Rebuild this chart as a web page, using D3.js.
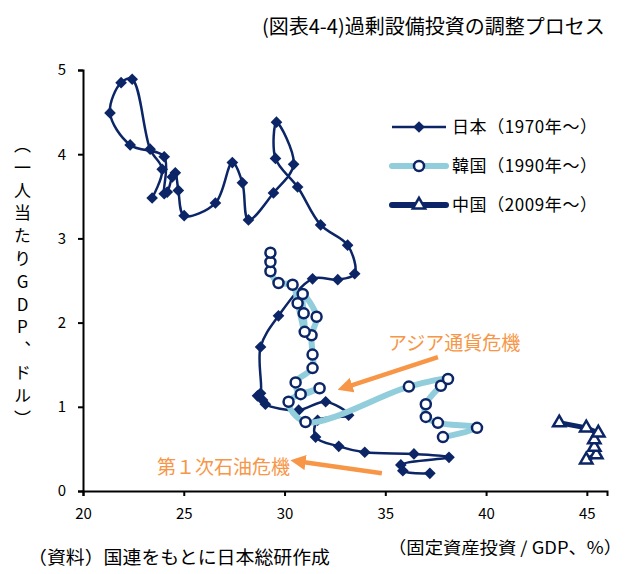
<!DOCTYPE html>
<html>
<head>
<meta charset="utf-8">
<script src="https://cdn.jsdelivr.net/npm/d3@7"></script>
<style>
  body { margin: 0; background: #fff; }
  #wrap { position: relative; width: 636px; height: 574px; }
  #ytitle {
    position: absolute; left: 10px; top: 136px;
    writing-mode: vertical-rl; text-orientation: upright;
    font-family: "Noto Sans CJK JP", sans-serif; font-size: 17px;
    letter-spacing: 5.8px; color: #000;
  }
</style>
</head>
<body>
<div id="wrap">
  <svg id="chart"></svg>
  <div id="ytitle">（一人当たりGDP、ドル）</div>
</div>
<script>
// 日本 1970-2015
const japanInvest = [37.21, 35.87, 35.77, 38.16, 36.42, 33.98, 32.69, 31.54, 31.64, 33.18,
  32.04, 30.70, 29.05, 28.91, 28.66, 28.81, 28.81, 29.70, 31.39, 32.64,
  33.48, 33.13, 31.79, 30.65, 29.55, 29.60, 30.45, 29.45, 28.21, 27.91,
  27.41, 26.57, 25.02, 24.73, 24.58, 24.43, 24.18, 24.03, 24.03, 22.34,
  21.34, 21.89, 22.44, 23.33, 23.93, 23.43];
const japanGdp = [0.21, 0.24, 0.31, 0.40, 0.44, 0.46, 0.53, 0.64, 0.84, 0.90,
  1.06, 0.96, 1.03, 1.08, 1.13, 1.16, 1.71, 2.08, 2.52, 2.51,
  2.58, 2.92, 3.16, 3.61, 3.95, 4.38, 3.88, 3.54, 3.22, 3.66,
  3.90, 3.42, 3.27, 3.57, 3.78, 3.73, 3.55, 3.53, 3.97, 4.11,
  4.49, 4.85, 4.89, 4.06, 3.82, 3.48];

// 韓国 1990-2015
const koreaInvest = [37.86, 39.55, 37.61, 37.01, 37.01, 37.76, 38.11, 36.17, 31.04, 30.20,
  31.74, 30.80, 30.55, 31.39, 31.39, 31.34, 31.59, 30.90, 30.95, 31.00,
  30.65, 30.40, 29.70, 29.30, 29.30, 29.30];
const koreaGdp = [0.64, 0.75, 0.81, 0.88, 1.03, 1.25, 1.33, 1.24, 0.82, 1.06,
  1.22, 1.15, 1.29, 1.46, 1.62, 1.85, 2.07, 2.34, 2.11, 1.89,
  2.23, 2.45, 2.47, 2.61, 2.72, 2.83];

// 中国 2009-2015
const chinaInvest = [44.97, 45.47, 45.37, 45.37, 45.57, 44.97, 43.63];
const chinaGdp = [0.37, 0.43, 0.52, 0.61, 0.69, 0.75, 0.81];

const xTicks = [20, 25, 30, 35, 40, 45];
const yTicks = [0, 1, 2, 3, 4, 5];
const seriesNames = ["日本（1970年～）", "韓国（1990年～）", "中国（2009年～）"];

// annotations in data units: [label, textX, textY, tailX, tailY, tipX, tipY]
const notes = [
  ["アジア通貨危機", 38.41, 1.76, 37.61, 1.59, 32.74, 1.21],
  ["第１次石油危機", 26.97, 0.28, 34.83, 0.21, 30.40, 0.36]
];

const W = 636, H = 574;
const navy = "#0c2566", light = "#92cddc", orange = "#f79646";
const font = '"Noto Sans CJK JP", sans-serif';

const svg = d3.select("#chart").attr("width", W).attr("height", H)
  .style("font-family", font);

const x = d3.scaleLinear().domain([20, 46]).range([83, 607]);
const y = d3.scaleLinear().domain([0, 5]).range([491, 70]);

const zip = (a, b) => a.map((v, i) => [v, b[i]]);
const japan = zip(japanInvest, japanGdp);
const korea = zip(koreaInvest, koreaGdp);
const china = zip(chinaInvest, chinaGdp);

// title
svg.append("text").attr("x", 262).attr("y", 34)
  .attr("font-size", 20).attr("fill", "#000")
  .text("(図表4-4)過剰設備投資の調整プロセス");

// axes
const xAxis = svg.append("g").attr("transform", `translate(0,${y(0)})`)
  .call(d3.axisBottom(x).tickValues(xTicks).tickSize(5).tickPadding(12).tickFormat(d3.format("d")));
const yAxis = svg.append("g").attr("transform", `translate(${x(20)},0)`)
  .call(d3.axisLeft(y).tickValues(yTicks).tickSize(5).tickPadding(12).tickFormat(d3.format("d")));
[xAxis, yAxis].forEach(g => {
  g.select(".domain").attr("stroke", "#000").attr("stroke-width", 2);
  g.selectAll(".tick line").attr("stroke", "#000").attr("stroke-width", 2);
  g.selectAll(".tick text").attr("font-size", 15).attr("font-family", font).attr("fill", "#000");
});

const line = d3.line().x(d => x(d[0])).y(d => y(d[1])).curve(d3.curveCatmullRom.alpha(0.5));
const diamond = d3.symbol().type(d3.symbolSquare).size(68);
const triangle = d3.symbol().type(d3.symbolTriangle).size(66);

// 日本
svg.append("path").datum(japan).attr("d", line)
  .attr("fill", "none").attr("stroke", navy).attr("stroke-width", 2.5);
svg.append("g").selectAll("path").data(japan).join("path")
  .attr("d", diamond)
  .attr("transform", d => `translate(${x(d[0])},${y(d[1])}) rotate(45)`)
  .attr("fill", navy);

// 韓国
svg.append("path").datum(korea).attr("d", line)
  .attr("fill", "none").attr("stroke", light).attr("stroke-width", 6);
svg.append("g").selectAll("circle").data(korea).join("circle")
  .attr("cx", d => x(d[0])).attr("cy", d => y(d[1])).attr("r", 5)
  .attr("fill", "#fff").attr("stroke", navy).attr("stroke-width", 2.5);

// 中国
svg.append("path").datum(china).attr("d", d3.line().x(d => x(d[0])).y(d => y(d[1])))
  .attr("fill", "none").attr("stroke", navy).attr("stroke-width", 5);
svg.append("g").selectAll("path").data(china).join("path")
  .attr("d", triangle)
  .attr("transform", d => `translate(${x(d[0])},${y(d[1])})`)
  .attr("fill", "#fff").attr("stroke", navy).attr("stroke-width", 2.5);

// legend
const legend = svg.append("g").attr("transform", "translate(392,127)");
seriesNames.forEach((name, i) => {
  const g = legend.append("g").attr("transform", `translate(0,${i * 39})`);
  const sw = i === 0 ? 2.5 : 6;
  g.append("line").attr("x1", 0).attr("x2", 54).attr("y1", 0).attr("y2", 0)
    .attr("stroke", i === 1 ? light : navy).attr("stroke-width", sw)
    .attr("stroke-linecap", i === 0 ? "butt" : "round");
  if (i === 0) g.append("path").attr("d", diamond).attr("transform", "translate(27,0) rotate(45)").attr("fill", navy);
  if (i === 1) g.append("circle").attr("cx", 27).attr("r", 5).attr("fill", "#fff").attr("stroke", navy).attr("stroke-width", 2.5);
  if (i === 2) g.append("path").attr("d", triangle).attr("transform", "translate(27,0)").attr("fill", "#fff").attr("stroke", navy).attr("stroke-width", 2.5);
  g.append("text").attr("x", 60).attr("y", 6).attr("font-size", 17).attr("fill", "#000")
    .attr("textLength", 145).attr("lengthAdjust", "spacing").text(name);
});

// annotations
const defs = svg.append("defs");
defs.append("marker").attr("id", "arrow").attr("viewBox", "0 0 10 10")
  .attr("refX", 2).attr("refY", 5).attr("markerWidth", 3.4).attr("markerHeight", 3.4)
  .attr("orient", "auto-start-reverse").attr("markerUnits", "strokeWidth")
  .append("path").attr("d", "M0,0 L10,5 L0,10 Z").attr("fill", orange);
notes.forEach(n => {
  svg.append("text").attr("x", x(n[1])).attr("y", y(n[2]) + 7).attr("text-anchor", "middle")
    .attr("font-size", 19).attr("fill", orange).text(n[0]);
  const tx = x(n[5]), ty = y(n[6]), sx = x(n[3]), sy = y(n[4]);
  const len = Math.hypot(tx - sx, ty - sy);
  const ex = tx - (tx - sx) / len * 10, ey = ty - (ty - sy) / len * 10;
  svg.append("line").attr("x1", sx).attr("y1", sy).attr("x2", ex).attr("y2", ey)
    .attr("stroke", orange).attr("stroke-width", 4.5).attr("marker-end", "url(#arrow)");
});

// axis titles and source
svg.append("text").attr("x", 388).attr("y", 554)
  .attr("font-size", 17).attr("fill", "#000")
  .attr("textLength", 234).attr("lengthAdjust", "spacingAndGlyphs")
  .text("（固定資産投資 / GDP、%）");
svg.append("text").attr("x", 28).attr("y", 564)
  .attr("font-size", 18).attr("fill", "#000")
  .attr("textLength", 302).attr("lengthAdjust", "spacingAndGlyphs")
  .text("（資料）国連をもとに日本総研作成");
</script>
</body>
</html>
